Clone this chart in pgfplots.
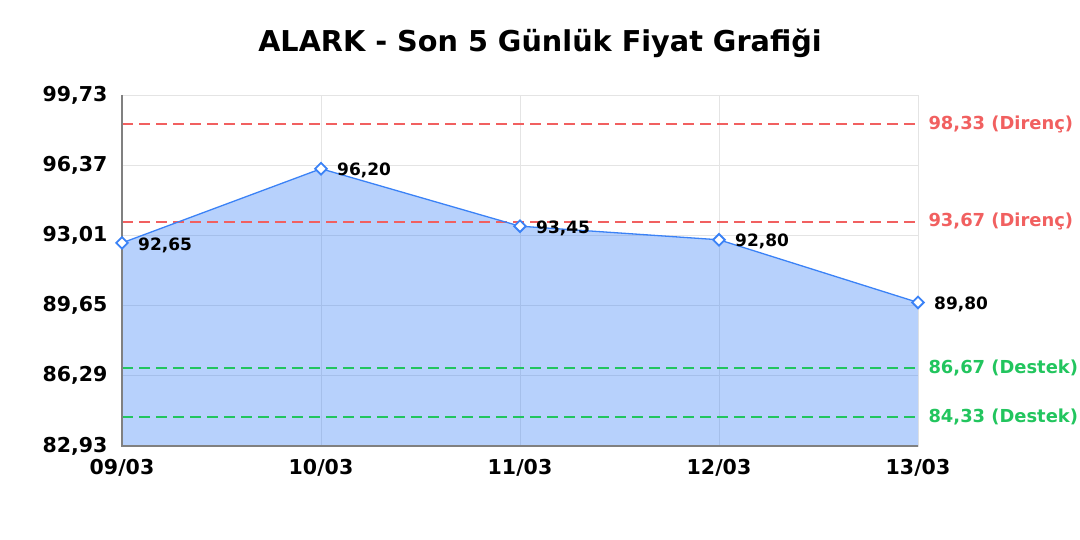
\documentclass[border=0pt]{standalone}
\usepackage{pgfplots}
\pgfplotsset{compat=1.18}
\usepackage{fontspec}
\setmainfont{DejaVu Sans}
\definecolor{lineblue}{RGB}{59,130,246}
\definecolor{resred}{RGB}{239,68,68}
\definecolor{supgreen}{RGB}{34,197,94}
\definecolor{gridgray}{RGB}{228,228,228}
\definecolor{spinegray}{RGB}{128,128,128}
\begin{document}
\begin{tikzpicture}[x=1pt,y=1pt]
\useasboundingbox (0,0) rectangle (1080,540);
\node[anchor=base, font=\fontsize{28.7}{32}\selectfont\bfseries] at (540,488) {ALARK - Son 5 Günlük Fiyat Grafiği};
\begin{axis}[
  at={(122pt,94pt)}, anchor=south west,
  scale only axis, width=796pt, height=351pt,
  xmin=0, xmax=4, ymin=82.93, ymax=99.73,
  xtick={0,1,2,3,4},
  xticklabels={09/03,10/03,11/03,12/03,13/03},
  ytick={82.93,86.29,89.65,93.01,96.37,99.73},
  yticklabels={{82,93},{86,29},{89,65},{93,01},{96,37},{99,73}},
  major tick length=0pt,
  grid=major,
  major grid style={gridgray, line width=0.8pt},
  axis line style={gridgray, line width=0.8pt},
  tick label style={font=\fontsize{20.5}{24}\selectfont\bfseries},
  xticklabel style={yshift=-10pt},
  yticklabel style={xshift=-11pt},
  clip=false,
]
\addplot[draw=none, fill=lineblue, fill opacity=0.37] coordinates {(0,82.93) (0,92.65) (1,96.20) (2,93.45) (3,92.80) (4,89.80) (4,82.93)};
\addplot[resred!85, line width=1.8pt, dash pattern=on 11pt off 6pt] coordinates {(0,98.33) (4,98.33)};
\addplot[resred!85, line width=1.8pt, dash pattern=on 11pt off 6pt] coordinates {(0,93.67) (4,93.67)};
\addplot[supgreen, line width=1.8pt, dash pattern=on 11pt off 6pt] coordinates {(0,86.67) (4,86.67)};
\addplot[supgreen, line width=1.8pt, dash pattern=on 11pt off 6pt] coordinates {(0,84.33) (4,84.33)};
\draw[spinegray, line width=1.2pt] (rel axis cs:0,1) -- (rel axis cs:0,0) -- (rel axis cs:1,0);
\addplot[lineblue, line width=1.3pt, mark=square*, mark size=4.1pt,
  mark options={fill=white, draw=lineblue, line width=1.8pt, rotate=45},
  nodes near coords, point meta=explicit symbolic,
  every node near coord/.append style={anchor=west, xshift=12pt, yshift=-2pt, text=black, font=\fontsize{17}{20}\selectfont\bfseries}]
  coordinates {(0,92.65) [92,65] (1,96.20) [96,20] (2,93.45) [93,45] (3,92.80) [92,80] (4,89.80) [89,80]};
\node[anchor=west, text=resred!85, font=\fontsize{17.9}{20}\selectfont\bfseries] at (axis cs:4,98.33) [xshift=7pt] {98,33 (Direnç)};
\node[anchor=west, text=resred!85, font=\fontsize{17.9}{20}\selectfont\bfseries] at (axis cs:4,93.67) [xshift=7pt] {93,67 (Direnç)};
\node[anchor=west, text=supgreen, font=\fontsize{17.9}{20}\selectfont\bfseries] at (axis cs:4,86.67) [xshift=7pt] {86,67 (Destek)};
\node[anchor=west, text=supgreen, font=\fontsize{17.9}{20}\selectfont\bfseries] at (axis cs:4,84.33) [xshift=7pt] {84,33 (Destek)};
\end{axis}
\end{tikzpicture}
\end{document}
